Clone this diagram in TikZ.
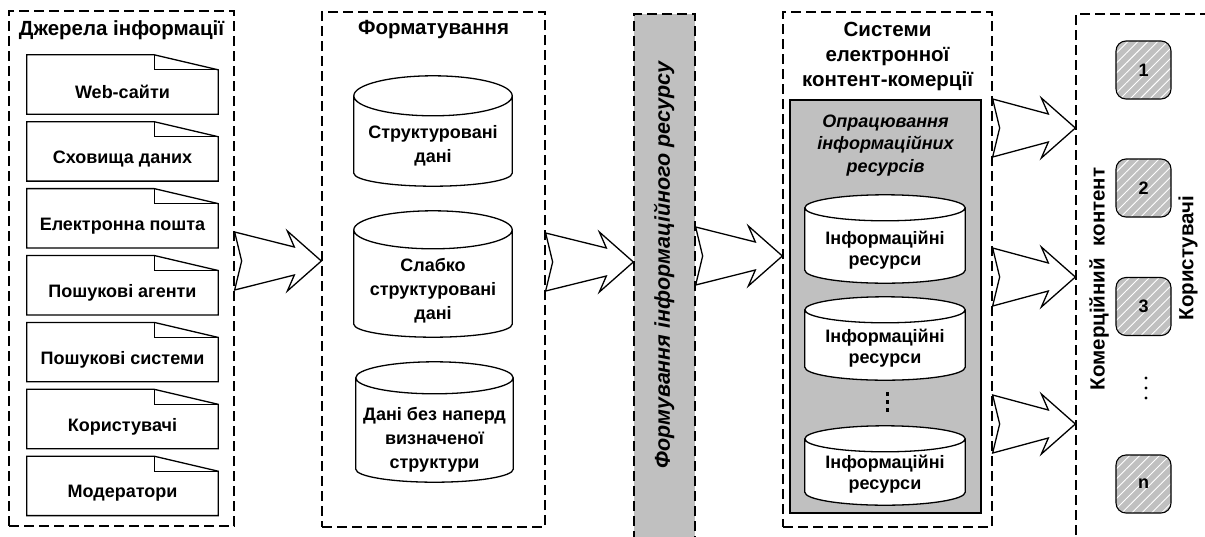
\documentclass[tikz,border=0pt]{standalone}
\usepackage{fontspec}
\setmainfont{Liberation Sans}
\usetikzlibrary{calc,positioning,patterns.meta}
\definecolor{panelgrey}{RGB}{192,192,192}
\newcommand{\diagfont}{\bfseries\fontsize{18}{24}\selectfont}
\newcommand{\headfont}{\bfseries\fontsize{20.5}{25}\selectfont}
\tikzset{
  panel/.style={draw, dash pattern=on 10pt off 5pt, line width=1.3pt, inner sep=0pt},
  paneltitle/.style={font=\headfont, align=center, inner sep=0pt},
  docbox/.style={minimum width=191pt, minimum height=44pt, inner sep=0pt, font=\diagfont},
  docline/.style={draw, line width=1.3pt},
  storebox/.style={inner sep=0pt},
  storeline/.style={draw, fill=white, line width=1.3pt},
  storetext/.style={font=\diagfont, align=center, inner sep=0pt},
  restext/.style={storetext, font=\bfseries\fontsize{18}{21}\selectfont},
  userbox/.style={draw, line width=1.1pt, rounded corners=10pt,
    minimum width=55pt, minimum height=58pt, inner sep=0pt, font=\diagfont,
    preaction={fill=panelgrey},
    pattern={Lines[angle=45,distance=7pt,line width=0.9pt]}, pattern color=white},
  sidelabel/.style={font=\headfont, rotate=90, inner sep=0pt},
  fatarrow/.style={draw, fill=white, line width=1.3pt, line join=miter}
}
% big hollow arrow from the east side of #1 to the west side of #2 at height #3
\newcommand{\fatarrow}[3]{%
  \coordinate (fa-t) at (#1.east |- 0,#3);
  \coordinate (fa-h) at (#2.west |- 0,#3);
  \draw[fatarrow] ($(fa-t)+(0,-29)$) -- ($(fa-h)+(-27,-14)$) -- ($(fa-h)+(-34,-30)$)
    -- (fa-h) -- ($(fa-h)+(-34,30)$) -- ($(fa-h)+(-27,14)$)
    -- ($(fa-t)+(0,29)$) -- ($(fa-t)+(7,0)$) -- cycle;
}
% drum drawn round node #1, top cap radius #2, bottom cap radius #3
\newcommand{\storeshape}[3]{%
  \draw[storeline] let \p1=($(#1.east)-(#1.west)$), \n1={0.5*\x1} in
    ([yshift=-#2pt]#1.north west) -- ([yshift=#3pt]#1.south west)
    arc[start angle=180, end angle=360, x radius=\n1, y radius=#3pt]
    -- ([yshift=-#2pt]#1.north east)
    arc[start angle=0, end angle=180, x radius=\n1, y radius=#2pt] -- cycle
    ([yshift=-#2pt]#1.north west)
    arc[start angle=180, end angle=360, x radius=\n1, y radius=#2pt];
}

\begin{document}
\begin{tikzpicture}[x=1pt,y=-1pt]
  \clip (0,0) rectangle (1205,536);

  % ==== SOURCES ====
  \node[panel, minimum width=225pt, minimum height=515pt] (sources) at (121.5,268.5) {};
  \node[paneltitle, below=10pt of sources.north] (sourcestitle) {Джерела інформації};
  \foreach \lbl [count=\i from 0] in {Web-сайти, Сховища даних, Електронна пошта,
      Пошукові агенти, Пошукові системи, Користувачі, Модератори} {
    \node[docbox] (src\i) at (122.5,{92+66.9*\i}) {\lbl};
    \draw[docline] ([yshift=15pt]src\i.north west) -- ([xshift=-64pt,yshift=15pt]src\i.north east)
      -- (src\i.north east) -- (src\i.south east) -- (src\i.south west) -- cycle;
    \draw[docline] ([xshift=-64pt,yshift=15pt]src\i.north east) |- (src\i.north east);
  }

  % ==== FORMATTING ====
  \node[panel, minimum width=223pt, minimum height=515pt] (format) at (433.5,269.5) {};
  \node[paneltitle, below=9pt of format.north] (formattitle) {Форматування};
  \node[storebox, minimum width=158pt, minimum height=110pt] (fmt1) at (433,131) {};
  \storeshape{fmt1}{20}{13}
  \node[storetext] (fmt1txt) at (433,146) {Структуровані\\дані};
  \node[storebox, minimum width=158pt, minimum height=126pt] (fmt2) at (433,274) {};
  \storeshape{fmt2}{19}{13}
  \node[storetext] (fmt2txt) at (433,291) {Слабко\\структуровані\\дані};
  \node[storebox, minimum width=157pt, minimum height=120pt] (fmt3) at (434.5,422) {};
  \storeshape{fmt3}{16}{13}
  \node[storetext] (fmt3txt) at (434.5,440) {Дані без наперд\\визначеної\\структури};

  % ==== BAR ====
  \node[panel, fill=panelgrey, minimum width=61pt, minimum height=546pt] (bar) at (664.5,287) {};
  \node[sidelabel, font=\bfseries\itshape\fontsize{21.5}{25}\selectfont] (barlabel) at (664,265)
    {Формування інформаційного ресурсу};

  % ==== E-COMMERCE SYSTEMS ====
  \node[panel, minimum width=209pt, minimum height=515pt] (systems) at (887.5,269.5) {};
  \node[paneltitle, below=11pt of systems.north] (systemstitle)
    {Системи\\електронної\\контент-комерції};
  \node[draw, line width=1.1pt, fill=panelgrey, minimum width=191pt, minimum height=413pt]
    (processing) at (885.5,306.5) {};
  \node[storetext, font=\bfseries\itshape\fontsize{18}{22.5}\selectfont,
    below=15pt of processing.north] (proctitle)
    {Опрацювання\\інформаційних\\ресурсів};
  \node[storebox, minimum width=160pt, minimum height=88pt] (res1) at (885,239) {};
  \storeshape{res1}{13}{13}
  \node[restext] (res1txt) at (885,250) {Інформаційні\\ресурси};
  \node[storebox, minimum width=160pt, minimum height=83pt] (res2) at (885,338.5) {};
  \storeshape{res2}{13}{13}
  \node[restext] (res2txt) at (885,348) {Інформаційні\\ресурси};
  \node[storebox, minimum width=160pt, minimum height=79pt] (res3) at (885,465.5) {};
  \storeshape{res3}{13}{13}
  \node[restext] (res3txt) at (885,474) {Інформаційні\\ресурси};
  \foreach \dy in {392,400,408}
    \fill (885.5,\dy) rectangle +(3.5,3.5);

  % ==== USERS ====
  \node[panel, minimum width=154pt, minimum height=546pt] (users) at (1153,287) {};
  \node[userbox] (u1) at (1143.5,70) {1};
  \node[userbox] (u2) at (1143.5,188) {2};
  \node[userbox] (u3) at (1143.5,306.5) {3};
  \node[userbox] (un) at (1143.5,484) {n};
  \foreach \dy in {378,388,398}
    \fill (1146,\dy) circle (1.7);
  \node[sidelabel] (content) at (1099,279) {Комерційний~ контент};
  \node[sidelabel] (userslabel) at (1188,258) {Користувачі};

  % ==== ARROWS ====
  \fatarrow{sources}{format}{261}
  \fatarrow{format}{bar}{262}
  \fatarrow{bar}{systems}{256}
  \fatarrow{systems}{users}{128}
  \fatarrow{systems}{users}{277}
  \fatarrow{systems}{users}{424}
\end{tikzpicture}
\end{document}
